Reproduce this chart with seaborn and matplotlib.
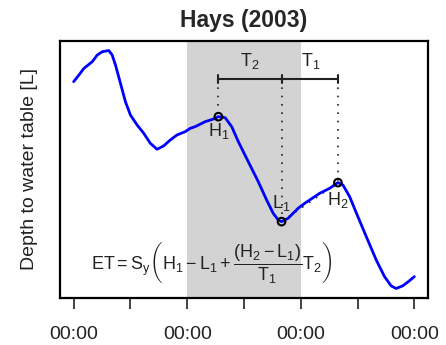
import matplotlib
matplotlib.use("Agg")
import matplotlib.pyplot as plt
import seaborn as sns
import pandas as pd

# ---- data ----
time_x = [0.0, 0.093, 0.181, 0.328, 0.416, 0.504, 0.619, 0.679, 0.737, 0.825,
          0.912, 1.0, 1.118, 1.235, 1.351, 1.469, 1.584, 1.702, 1.819, 1.965,
          2.053, 2.140, 2.316, 2.461, 2.549, 2.667, 2.784, 2.900, 3.075, 3.251,
          3.398, 3.514, 3.602, 3.661, 3.777, 3.953, 4.070, 4.158, 4.333, 4.509,
          4.654, 4.742, 4.860, 5.005, 5.153, 5.328, 5.474, 5.591, 5.679, 5.795,
          5.900, 6.0]
level_y = [0.869, 0.897, 0.925, 0.953, 0.981, 0.995, 1.0, 0.981, 0.939, 0.862,
           0.785, 0.729, 0.687, 0.652, 0.610, 0.585, 0.599, 0.624, 0.645, 0.659,
           0.673, 0.680, 0.701, 0.712, 0.722, 0.718, 0.680, 0.617, 0.533, 0.449,
           0.372, 0.316, 0.288, 0.281, 0.295, 0.337, 0.358, 0.372, 0.400, 0.421,
           0.445, 0.435, 0.386, 0.302, 0.218, 0.120, 0.050, 0.011, 0.0, 0.011,
           0.030, 0.050]

point_names = ["H1", "L1", "H2"]
point_x = [2.549, 3.661, 4.654]
point_y = [0.722, 0.281, 0.445]
point_labels = [r"$\mathrm{H_1}$", r"$\mathrm{L_1}$", r"$\mathrm{H_2}$"]
label_x = [2.55, 3.66, 4.65]
label_y = [0.662, 0.359, 0.372]

shade_start, shade_end = 2.0, 4.0
bar_y = 0.880
t_labels = [r"$\mathrm{T_2}$", r"$\mathrm{T_1}$"]
t_label_x = [3.105, 4.17]
t_label_y = 0.955

tick_pos = [0, 1, 2, 3, 4, 5, 6]
tick_labels = ["00:00", "", "00:00", "", "00:00", "", "00:00"]

formula = (r"$\mathrm{ET} = \mathrm{S_y}\left(\mathrm{H_1} - \mathrm{L_1} + "
           r"\dfrac{(\mathrm{H_2} - \mathrm{L_1})}{\mathrm{T_1}}\mathrm{T_2}\right)$")
formula_x, formula_y = 2.43, 0.111

# ---- style ----
sns.set_theme(style="white")
plt.rcParams["font.family"] = ["Liberation Sans", "DejaVu Sans"]
plt.rcParams["mathtext.fontset"] = "custom"
plt.rcParams["mathtext.rm"] = "Liberation Sans"
plt.rcParams["mathtext.it"] = "Liberation Sans:italic"
plt.rcParams["mathtext.bf"] = "Liberation Sans:bold"

fig = plt.figure(figsize=(4.46, 3.45), dpi=100)
ax = fig.add_axes([60 / 446, 1 - 298 / 345, 368 / 446, 257 / 345])

ax.axvspan(shade_start, shade_end, color="#d3d3d3", lw=0, zorder=0)

df = pd.DataFrame({"t": time_x, "h": level_y})
sns.lineplot(data=df, x="t", y="h", color="#0000ff", lw=2.0, ax=ax,
             sort=False, estimator=None, zorder=3)

# dotted guides
for px, py in zip(point_x, point_y):
    ax.plot([px, px], [bar_y, py], color="#222222", lw=1.2,
            linestyle=(0, (1, 4)), zorder=2)
ax.plot([point_x[1], point_x[2]], [point_y[1], point_y[2]], color="#222222",
        lw=1.2, linestyle=(0, (1, 4)), zorder=2)

# T bar
ax.plot([point_x[0], point_x[2]], [bar_y, bar_y], color="#222222", lw=1.5, zorder=4)
for px in point_x:
    ax.plot([px, px], [bar_y - 0.018, bar_y + 0.018], color="#222222", lw=1.5, zorder=4)

pts = pd.DataFrame({"x": point_x, "y": point_y, "name": point_names})
sns.scatterplot(data=pts, x="x", y="y", s=30, facecolor="none",
                edgecolor="black", linewidth=1.5, ax=ax, zorder=5)

for lx, ly, lab in zip(label_x, label_y, point_labels):
    ax.text(lx, ly, lab, ha="center", va="center", fontsize=13, color="#222222", zorder=6)
for lx, lab in zip(t_label_x, t_labels):
    ax.text(lx, t_label_y, lab, ha="center", va="center", fontsize=13, color="#222222", zorder=6)

ax.text(formula_x, formula_y, formula, ha="center", va="center", fontsize=13,
        color="#222222", zorder=6)

ax.set_xlim(-0.24, 6.24)
ax.set_ylim(-0.04, 1.04)
ax.set_xticks(tick_pos)
ax.set_xticklabels(tick_labels, fontsize=14, color="#222222")
ax.set_yticks([])
ax.tick_params(axis="x", direction="out", length=8, width=1.2, color="#222222",
               pad=12, bottom=True)
ax.set_xlabel("")
ax.set_ylabel("Depth to water table [L]", fontsize=14, color="#222222", labelpad=16)
ax.set_title("Hays (2003)", fontsize=16.5, fontweight="bold", pad=10)
for s in ax.spines.values():
    s.set_visible(True)
    s.set_color("black")
    s.set_linewidth(1.6)

fig.savefig("out.png", dpi=100)
